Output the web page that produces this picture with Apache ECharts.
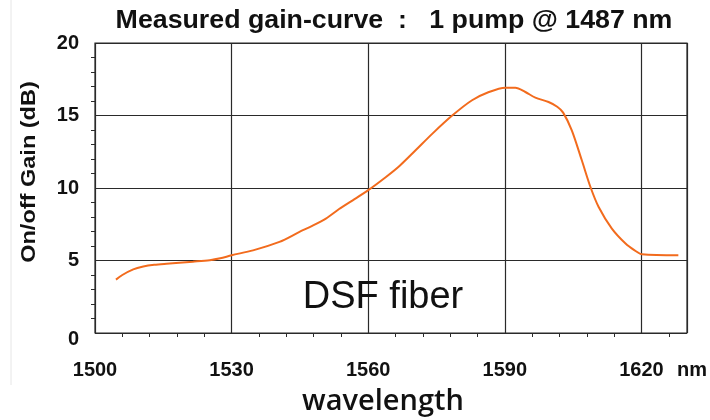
<!DOCTYPE html>
<html>
<head>
<meta charset="utf-8">
<script src="https://cdn.jsdelivr.net/npm/echarts@6/dist/echarts.min.js"></script>
<style>
html,body{margin:0;padding:0;background:#fff;}
#chart{width:710px;height:420px;}
</style>
</head>
<body>
<div id="chart"></div>
<script>
var wavelengths = [1504.6,1506,1508.4,1510.6,1513,1515.7,1518.5,1521.5,1525.2,1527.5,1530,1534.7,1540.5,1544.9,1547.8,1550.7,1553.6,1556.6,1560,1563.9,1566.8,1570.4,1574.1,1578.5,1582.8,1586.5,1590.1,1592.3,1594.5,1596.7,1599.6,1601.5,1602.8,1604.7,1606.9,1608.8,1610.6,1613.5,1616.5,1618.5,1620.1,1628.1];
var gains = [3.68,4.0,4.39,4.58,4.7,4.78,4.85,4.92,5.02,5.15,5.36,5.7,6.28,6.97,7.4,7.89,8.55,9.15,9.85,10.76,11.5,12.6,13.75,15.01,16.05,16.62,16.92,16.92,16.62,16.23,15.93,15.6,15.2,13.98,11.91,10.07,8.69,7.2,6.17,5.7,5.43,5.36];
var xTicks = [1500,1530,1560,1590,1620];
var yTicks = [0,5,10,15,20];
var titleText = 'Measured gain-curve  :   1 pump @ 1487 nm';
var yTitle = 'On/off Gain (dB)';
var xTitle = 'wavelength';
var noteText = 'DSF fiber';
var unitText = 'nm';

var data = wavelengths.map(function(w,i){return [w,gains[i]];});
var chart = echarts.init(document.getElementById('chart'));
var gridColor = '#2a2a2a';
chart.setOption({
  animation:false,
  backgroundColor:'#fff',
  grid:{left:95,top:43,width:592,height:290,show:true,borderColor:gridColor,borderWidth:1.2,backgroundColor:'transparent'},
  xAxis:{
    type:'value',min:1500,max:1630,interval:30,
    axisLine:{show:false},
    axisTick:{show:false},
    minorTick:{show:true,splitNumber:5,length:4,lineStyle:{color:gridColor,width:1}},
    splitLine:{show:true,lineStyle:{color:gridColor,width:1.2}},
    axisLabel:{
      margin:27,fontFamily:'Liberation Sans, Arial, sans-serif',fontWeight:'bold',fontSize:20,color:'#111',
      showMaxLabel:true,
      formatter:function(v){ if(xTicks.indexOf(v)>=0) return String(v); if(v===1630) return '{nm|'+unitText+'}'; return ''; },
      rich:{nm:{padding:[0,0,0,10],fontFamily:'Liberation Sans, Arial, sans-serif',fontWeight:'bold',fontSize:20,color:'#111'}}
    }
  },
  yAxis:{
    type:'value',min:0,max:20,interval:5,
    axisLine:{show:false},
    axisTick:{show:false},
    minorTick:{show:true,splitNumber:5,length:4,lineStyle:{color:gridColor,width:1}},
    splitLine:{show:true,lineStyle:{color:gridColor,width:1.2}},
    axisLabel:{
      margin:16,fontFamily:'Liberation Sans, Arial, sans-serif',fontWeight:'bold',fontSize:20,color:'#111',
      formatter:function(v){ if(v===0) return '{z|0}'; return yTicks.indexOf(v)>=0?String(v):''; },
      rich:{z:{padding:[12,0,0,0],fontFamily:'Liberation Sans, Arial, sans-serif',fontWeight:'bold',fontSize:20,color:'#111'}}
    }
  },
  series:[{
    type:'line',data:data,showSymbol:false,smooth:0.3,
    lineStyle:{color:'#f26b1d',width:2},
    z:5
  }],
  graphic:[
    {type:'line',shape:{x1:11,y1:0,x2:11,y2:385},style:{stroke:'#e6e6e6',lineWidth:1}},
    {type:'text',x:394,y:21,scaleX:1.07,style:{text:titleText,textAlign:'center',textVerticalAlign:'middle',font:'bold 25px "Liberation Sans", Arial, sans-serif',fill:'#111'}},
    {type:'text',x:29,y:172,rotation:Math.PI/2,scaleX:1.12,style:{text:yTitle,textAlign:'center',textVerticalAlign:'middle',font:'bold 21px "Liberation Sans", Arial, sans-serif',fill:'#111'}},
    {type:'text',x:383,y:298,style:{text:noteText,textAlign:'center',textVerticalAlign:'middle',font:'38px "Liberation Sans", Arial, sans-serif',fill:'#111'},z:10},
    {type:'text',x:383,y:402,style:{text:xTitle,textAlign:'center',textVerticalAlign:'middle',font:'600 29px "Open Sans", "Noto Sans", sans-serif',fill:'#111'}}
  ]
});
</script>
</body>
</html>
